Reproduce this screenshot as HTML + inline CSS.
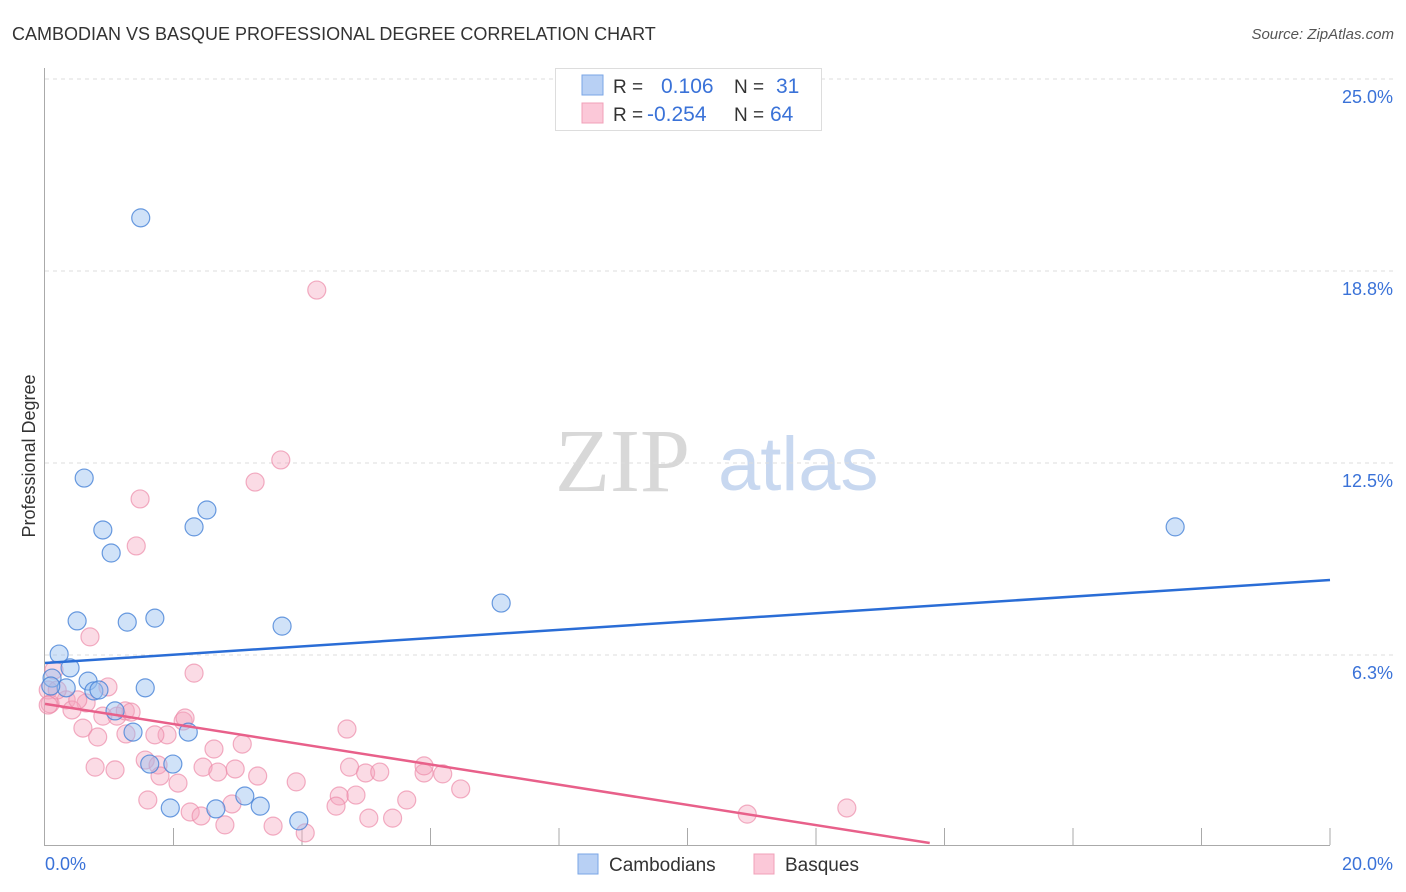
<!DOCTYPE html>
<html><head><meta charset="utf-8"><style>
body{margin:0;background:#fff;font-family:"Liberation Sans",sans-serif;}
svg{display:block}
</style></head><body>
<svg id="c" width="1406" height="892">
<text x="12" y="40" font-size="18" fill="#333">CAMBODIAN VS BASQUE PROFESSIONAL DEGREE CORRELATION CHART</text>
<text x="1394" y="39" font-size="15" fill="#555" text-anchor="end" font-style="italic">Source: ZipAtlas.com</text>
<text x="35" y="456" font-size="18" fill="#333" transform="rotate(-90 35 456)" text-anchor="middle">Professional Degree</text>
<g>
<text x="555" y="491" font-size="90" font-family="Liberation Serif,serif" fill="#d8d8d8">ZIP</text>
<text x="718" y="490" font-size="76" fill="#c8d8f0">atlas</text>
</g>
<g id="grid"></g>
<g id="axes"></g>
<g id="pts"></g>
<g id="lines"></g>
<g>
<rect x="555.5" y="68.5" width="266" height="62" fill="#fff" stroke="#ddd"/>
<rect x="582" y="75" width="21" height="20" fill="#b8d0f4" stroke="#7aa6e6"/>
<rect x="582" y="103" width="21" height="20" fill="#fbc8d8" stroke="#f0a0b8"/>
<text x="613" y="93" font-size="19" fill="#333">R =</text>
<text x="661" y="93" font-size="21" fill="#3a72d8">0.106</text>
<text x="734" y="93" font-size="19" fill="#333">N =</text>
<text x="776" y="93" font-size="21" fill="#3a72d8">31</text>
<text x="613" y="121" font-size="19" fill="#333">R =</text>
<text x="647" y="121" font-size="21" fill="#3a72d8">-0.254</text>
<text x="734" y="121" font-size="19" fill="#333">N =</text>
<text x="770" y="121" font-size="21" fill="#3a72d8">64</text>
</g>
<g>
<rect x="578" y="854" width="20" height="20" fill="#b8d0f4" stroke="#7aa6e6"/>
<text x="609" y="871" font-size="19" fill="#333">Cambodians</text>
<rect x="754" y="854" width="20" height="20" fill="#fbc8d8" stroke="#f0a0b8"/>
<text x="785" y="871" font-size="19" fill="#333">Basques</text>
</g>
</svg>
<script>
const yTicks=[25,18.75,12.5,6.25];
const yTickLabels=["25.0%","18.8%","12.5%","6.3%"];
const xTicks=[2,4,6,8,10,12,14,16,18,20];
const xEndLabels=["0.0%","20.0%"];
const blueX=[1.49,0.61,0.90,1.03,0.50,1.28,1.71,2.32,2.52,3.69,7.10,17.59,0.22,0.39,0.67,0.11,0.33,0.76,0.84,1.56,0.09,1.09,1.37,2.23,1.63,1.99,1.95,2.66,3.11,3.35,3.95];
const blueY=[20.48,12.01,10.32,9.57,7.36,7.32,7.45,10.42,10.97,7.19,7.94,10.42,6.28,5.83,5.40,5.50,5.18,5.08,5.11,5.18,5.24,4.43,3.74,3.74,2.70,2.70,1.27,1.24,1.66,1.33,0.85];
const pinkX=[4.23,3.67,3.27,1.48,1.42,0.70,2.32,0.98,0.14,0.05,0.08,0.33,0.64,0.42,0.90,1.12,1.25,0.59,0.82,1.26,1.90,2.15,2.18,2.63,3.07,4.70,0.78,1.09,1.56,1.76,1.79,2.07,2.46,2.69,2.96,3.31,3.91,4.74,4.99,5.21,5.90,5.90,6.19,6.47,5.63,4.58,4.84,4.53,1.60,2.26,2.43,2.80,2.91,3.55,4.05,5.04,5.41,10.93,12.48,0.05,0.19,0.51,1.34,1.71];
const pinkY=[18.13,12.60,11.88,11.33,9.80,6.84,5.66,5.21,5.76,5.11,4.66,4.79,4.69,4.46,4.26,4.26,4.43,3.87,3.58,3.68,3.65,4.10,4.20,3.19,3.35,3.84,2.60,2.51,2.83,2.67,2.31,2.08,2.60,2.44,2.54,2.31,2.12,2.60,2.41,2.44,2.41,2.64,2.38,1.89,1.53,1.66,1.69,1.33,1.53,1.14,1.01,0.72,1.40,0.68,0.46,0.94,0.94,1.07,1.27,4.62,5.11,4.79,4.39,3.65];
const blueTrend=[[0,5.99],[20,8.69]];
const pinkTrend=[[0,4.66],[13.77,0.13]];
const NS="http://www.w3.org/2000/svg";
const X0=45,X1=1330,Y0=847;
function sx(v){return X0+(X1-X0)*v/20;}
function sy(v){return Y0-v*192/6.25;}
function mk(t,a,p){const e=document.createElementNS(NS,t);for(const k in a)e.setAttribute(k,a[k]);document.getElementById(p).appendChild(e);return e;}
yTicks.forEach((v,i)=>{
 const l=mk('line',{x1:45,x2:1394,y1:sy(v),y2:sy(v),stroke:'#ddd','stroke-dasharray':'4,4'},'grid');
 
 
 const t=mk('text',{x:1393,y:sy(v)+24,'font-size':18,fill:'#3a72d8','text-anchor':'end'},'grid');
 t.textContent=yTickLabels[i];
 
 
});
const ax=mk('line',{x1:44.5,x2:44.5,y1:68,y2:845,stroke:'#aaa'},'axes');


const bx=mk('line',{x1:44,x2:1330,y1:845.5,y2:845.5,stroke:'#aaa'},'axes');


xTicks.forEach(v=>{
 const t=mk('line',{x1:sx(v),x2:sx(v),y1:828,y2:845,stroke:'#aaa'},'axes');
 
 
});
[[0,'start',45],[20,'end',1393]].forEach((d,i)=>{
 const t=mk('text',{x:d[2],y:870,'font-size':18,fill:'#3a72d8','text-anchor':d[1]},'axes');
 t.textContent=xEndLabels[i];
 
 
});
pinkX.forEach((v,i)=>{
 const c=mk('circle',{cx:sx(v),cy:sy(pinkY[i]),r:9,fill:'rgba(245,165,190,0.4)',stroke:'rgba(236,140,170,0.7)','stroke-width':1.2},'pts');
 
 
});
blueX.forEach((v,i)=>{
 const c=mk('circle',{cx:sx(v),cy:sy(blueY[i]),r:9,fill:'rgba(150,190,240,0.45)',stroke:'rgba(70,130,215,0.8)','stroke-width':1.2},'pts');
 
 
});
const bl=mk('line',{x1:sx(blueTrend[0][0]),y1:sy(blueTrend[0][1]),x2:sx(blueTrend[1][0]),y2:sy(blueTrend[1][1]),stroke:'#2a6dd6','stroke-width':2.5},'lines');


const pl=mk('line',{x1:sx(pinkTrend[0][0]),y1:sy(pinkTrend[0][1]),x2:sx(pinkTrend[1][0]),y2:sy(pinkTrend[1][1]),stroke:'#e8608a','stroke-width':2.5},'lines');


</script>
</body></html>
